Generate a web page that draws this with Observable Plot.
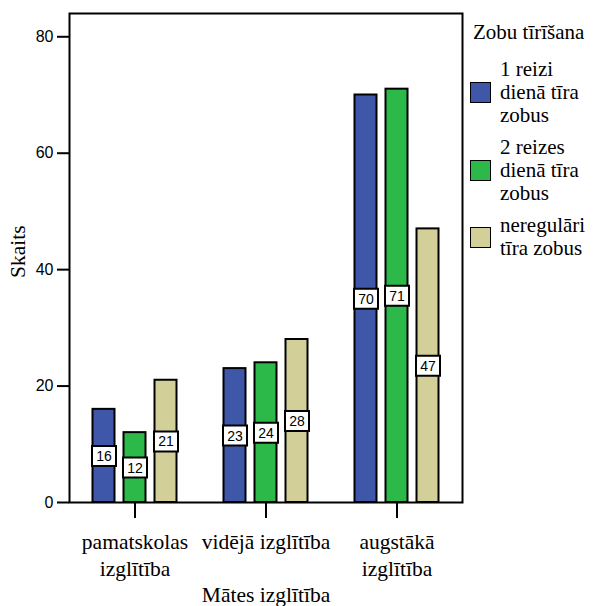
<!DOCTYPE html>
<html>
<head>
<meta charset="utf-8">
<script src="https://cdn.jsdelivr.net/npm/d3@7"></script>
<script src="https://cdn.jsdelivr.net/npm/@observablehq/plot@0.6"></script>
<style>
  html, body { margin: 0; padding: 0; background: #fff; }
  #chart { position: relative; width: 599px; height: 606px; }
  #legend {
    position: absolute; left: 470px; top: 21px;
    font-family: "Liberation Serif", "Times New Roman", serif;
    font-size: 21px; line-height: 23px; color: #000;
  }
  #legend .title { margin-left: 3px; margin-bottom: 14px; white-space: nowrap; }
  #legend .item { display: flex; align-items: center; margin-bottom: 9px; }
  #legend .swatch { width: 19px; height: 19px; border: 1.5px solid #000; flex: none; margin-right: 9px; }
  #legend .label { white-space: pre-line; }
</style>
</head>
<body>
<div id="chart"></div>
<script>
// Mother's education groups and their axis labels
const categories = ["pamatskolas izglītība", "vidējā izglītība", "augstākā izglītība"];
const tickLabels = ["pamatskolas\nizglītība", "vidējā izglītība", "augstākā\nizglītība"];

// Tooth-brushing frequency series (legend labels wrap as shown)
const series = ["1 reizi dienā tīra zobus", "2 reizes dienā tīra zobus", "neregulāri tīra zobus"];
const legendLabels = ["1 reizi\ndienā tīra\nzobus", "2 reizes\ndienā tīra\nzobus", "neregulāri\ntīra zobus"];
const colors = ["#3e57a9", "#2db84a", "#d3cf98"];

// Counts per series, one value per education group
const onceDaily = [16, 23, 70];
const twiceDaily = [12, 24, 71];
const irregular = [21, 28, 47];

const yTicks = [0, 20, 40, 60, 80];

const seriesValues = [onceDaily, twiceDaily, irregular];
const table = series.flatMap((s, si) =>
  categories.map((c, ci) => ({education: c, series: s, si, value: seriesValues[si][ci]}))
);

const serif = "Liberation Serif, Times New Roman, serif";
const sans = "Liberation Sans, Arial, sans-serif";
const offsets = [-31, 0, 31]; // side-by-side placement inside each group

// Rectangular value box used behind each count label
const labelBox = {draw(ctx) { ctx.rect(-12, -10, 24, 20); }};

const marks = [];
series.forEach((s, si) => {
  const rows = table.filter(d => d.si === si);
  marks.push(
    Plot.barY(rows, {
      x: "education", y: "value", fill: colors[si],
      stroke: "black", strokeWidth: 2,
      insetLeft: 54.5, insetRight: 54.5, dx: offsets[si]
    }),
    Plot.dot(rows, {
      x: "education", y: d => d.value / 2, symbol: labelBox,
      fill: "white", stroke: "black", strokeWidth: 2, dx: offsets[si]
    }),
    Plot.text(rows, {
      x: "education", y: d => d.value / 2, text: d => String(d.value),
      dx: offsets[si], dy: 0.5, fontFamily: sans, fontSize: 14, fill: "black"
    })
  );
});

const plot = Plot.plot({
  width: 599,
  height: 606,
  marginLeft: 69,
  marginRight: 137,
  marginTop: 13,
  marginBottom: 104,
  style: {background: "white", color: "black", overflow: "visible"},
  x: {domain: categories, padding: 0, axis: null},
  y: {domain: [0, 84], axis: null},
  marks: [
    ...marks,
    Plot.frame({stroke: "black", strokeWidth: 2}),
    Plot.axisY(yTicks, {
      tickSize: 12, tickPadding: 4, strokeWidth: 2,
      fontFamily: sans, fontSize: 16, label: null
    }),
    Plot.axisX({
      tickSize: 16, strokeWidth: 2, tickFormat: () => "", label: null
    }),
    Plot.text(categories, {
      x: d => d, text: (d, i) => tickLabels[i],
      frameAnchor: "bottom", dy: 28, lineAnchor: "top", lineHeight: 1.24,
      fontFamily: serif, fontSize: 21.5, fill: "black"
    }),
    Plot.text(["Mātes izglītība"], {
      text: d => d, frameAnchor: "bottom", dy: 93, lineAnchor: "middle",
      fontFamily: serif, fontSize: 21.5, fill: "black"
    }),
    Plot.text(["Skaits"], {
      text: d => d, frameAnchor: "left", dx: -51, dy: 20, rotate: -90, lineAnchor: "middle",
      fontFamily: serif, fontSize: 21.5, fill: "black"
    })
  ]
});

const chart = document.getElementById("chart");
chart.appendChild(plot);

// Legend built from the same series and colours
const legend = document.createElement("div");
legend.id = "legend";
const title = document.createElement("div");
title.className = "title";
title.textContent = "Zobu tīrīšana";
legend.appendChild(title);
legendLabels.forEach((lbl, i) => {
  const item = document.createElement("div");
  item.className = "item";
  const sw = document.createElement("div");
  sw.className = "swatch";
  sw.style.background = colors[i];
  const tx = document.createElement("div");
  tx.className = "label";
  tx.textContent = lbl;
  item.appendChild(sw);
  item.appendChild(tx);
  legend.appendChild(item);
});
chart.appendChild(legend);
</script>
</body>
</html>
